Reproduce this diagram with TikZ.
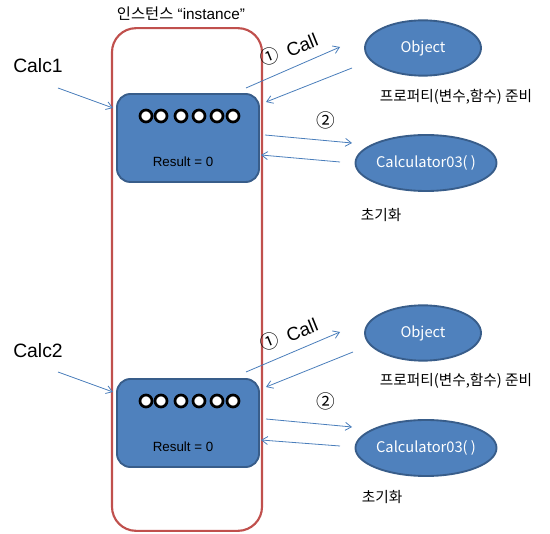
\documentclass[tikz,border=0pt]{standalone}
\usepackage{fontspec}
\setmainfont{Liberation Sans}
\newfontfamily\kr{Noto Sans CJK KR}
\usetikzlibrary{arrows.meta,shapes.geometric}
\definecolor{boxblue}{HTML}{4F81BD}
\definecolor{boxedge}{HTML}{385D8A}
\definecolor{framered}{HTML}{C0504D}
\definecolor{arr}{HTML}{4A7EBB}
\begin{document}
\begin{tikzpicture}[x=0.75pt,y=-0.75pt,
 objbox/.style={draw=boxedge, line width=1.4pt, fill=boxblue, rounded corners=10pt, minimum width=106.5pt, minimum height=66pt, inner sep=0pt},
 dot/.style={circle, draw=black, line width=2pt, fill=white, minimum size=9pt, inner sep=0pt},
 ell/.style={ellipse, draw=boxedge, line width=1.4pt, fill=boxblue, text=white, inner sep=0pt, font=\kr\fontsize{11}{13}\selectfont},
 link/.style={draw=arr, line width=0.6pt, -{Straight Barb[length=4.5pt,width=6pt]}},
 lbl/.style={inner sep=0pt, font=\kr\fontsize{11}{13}\selectfont},
 big/.style={inner sep=0pt, font=\fontsize{14.5}{17}\selectfont},
 framebox/.style={draw=framered, line width=1.6pt, rounded corners=18pt, minimum width=112.5pt, minimum height=377pt, inner sep=0pt},
 res/.style={inner sep=0pt, font=\fontsize{10}{12}\selectfont},
 callt/.style={inner sep=0pt, rotate=22, font=\fontsize{14}{16}\selectfont},
 num/.style={inner sep=0pt, font=\kr\fontsize{14}{16}\selectfont},
]
\useasboundingbox (0,0) rectangle (550,534);

% title
\node[inner sep=0pt, font=\fontsize{11.5}{13}\selectfont] (title) at (181,14) {{\kr 인스턴스} “instance”};

% boxes
\node[objbox] (box1) at (188,138) {};
\node[objbox] (box2) at (188,423) {};
\foreach \x [count=\i] in {146,161,181,199,217,233} {
  \node[dot] (da\i) at (\x,116) {};
  \node[dot] (db\i) at (\x,401) {};
}
\node[res] (res1) at (183,162) {Result = 0};
\node[res] (res2) at (183,447) {Result = 0};

% instance frame
\node[framebox] (inst) at (187,279.5) {};

% ellipses
\node[ell, minimum width=87pt, minimum height=41.5pt] (obj1) at (423,48) {Object};
\node[ell, minimum width=102pt, minimum height=42pt] (calc1e) at (426,163) {Calculator03( )};
\node[ell, minimum width=87pt, minimum height=41.5pt] (obj2) at (423,333) {Object};
\node[ell, minimum width=102pt, minimum height=42pt] (calc2e) at (426,448) {Calculator03( )};

% labels
\node[lbl] (prep1) at (456,97) {프로퍼티(변수,함수) 준비};
\node[lbl] (prep2) at (456,381) {프로퍼티(변수,함수) 준비};
\node[lbl] (init1) at (381,215) {초기화};
\node[lbl] (init2) at (382,497) {초기화};

\node[big] (c1) at (38,66) {Calc1};
\node[big] (c2) at (38,351) {Calc2};

\node[num, rotate=22] (n1a) at (269,56) {①};
\node[callt] (call1) at (302,45) {Call};
\node[num, rotate=22] (n1b) at (269,341) {①};
\node[callt] (call2) at (302,330) {Call};
\node[num] (n2a) at (326,120) {②};
\node[num] (n2b) at (326,401) {②};

% connector end points
\coordinate (a1s) at (58,88);   \coordinate (a1e) at (113,108);
\coordinate (a2s) at (58,372);  \coordinate (a2e) at (113,392);
\coordinate (p1s) at (246,88);  \coordinate (p1e) at (340,47);
\coordinate (q1s) at (352,68);  \coordinate (q1e) at (266,102);
\coordinate (r1s) at (265,135); \coordinate (r1e) at (352,143);
\coordinate (s1s) at (340,162); \coordinate (s1e) at (261,155);
\coordinate (p2s) at (246,372); \coordinate (p2e) at (340,332);
\coordinate (q2s) at (353,352); \coordinate (q2e) at (266,387);
\coordinate (r2s) at (266,419); \coordinate (r2e) at (352,427);
\coordinate (s2s) at (340,446); \coordinate (s2e) at (261,440);

\foreach \a/\b in {a1s/a1e,a2s/a2e,p1s/p1e,q1s/q1e,r1s/r1e,s1s/s1e,p2s/p2e,q2s/q2e,r2s/r2e,s2s/s2e}
  \draw[link] (\a) -- (\b);
\end{tikzpicture}
\end{document}
